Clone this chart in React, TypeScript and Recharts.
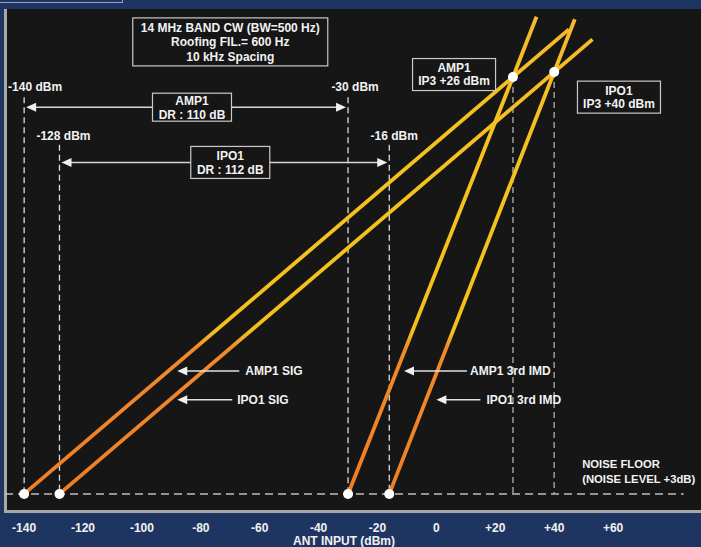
import React from 'react';
import { ComposedChart, Line, XAxis, YAxis, ReferenceLine, ReferenceDot } from 'recharts';

const FONT = '"Liberation Sans", Arial, Helvetica, sans-serif';
const TXT = '#f2f2f2';

// ---------- data ----------
const xTicks = [-140, -120, -100, -80, -60, -40, -20, 0, 20, 40, 60];
const NOISE_FLOOR = -140;

const amp1Sig = [{ x: -140, y: -140 }, { x: 45, y: 45 }];
const ipo1Sig = [{ x: -128, y: -140 }, { x: 53, y: 41 }];
const amp1Imd = [{ x: -30, y: -140 }, { x: 26, y: 26 }, { x: 34, y: 50 }];
const ipo1Imd = [{ x: -16, y: -140 }, { x: 40, y: 28 }, { x: 47, y: 49 }];

const mdsInputs = [-140, -128, -30, -16];
const mdsLabels = ['-140 dBm', '-128 dBm', '-30 dBm', '-16 dBm'];

const ip3Points = [{ x: 26, y: 26 }, { x: 40, y: 28 }];
const ip3Names = ['AMP1', 'IPO1'];
const ip3Texts = ['IP3 +26 dBm', 'IP3 +40 dBm'];

const drFrom = [-140, -128];
const drTo = [-30, -16];
const drNames = ['AMP1', 'IPO1'];
const drTexts = ['DR : 110 dB', 'DR : 112 dB'];

const titleLines = ['14 MHz BAND CW (BW=500 Hz)', 'Roofing FIL.= 600 Hz', '10 kHz Spacing'];
const seriesNames = ['AMP1 SIG', 'IPO1 SIG', 'AMP1 3rd IMD', 'IPO1 3rd IMD'];
const noiseLines = ['NOISE FLOOR', '(NOISE LEVEL +3dB)'];

// ---------- helpers ----------
const TextBox = ({ cx, cy, w, h, lines, gap }: any) => {
  const n = lines.length;
  return (
    <g>
      <rect x={cx - w / 2} y={cy - h / 2} width={w} height={h} fill="#161616" stroke="#c9c9c9" strokeWidth={1.2} />
      {lines.map((t: string, i: number) => (
        <text key={i} x={cx} y={cy + (i - (n - 1) / 2) * gap} dy="0.36em" textAnchor="middle"
          fill={TXT} fontSize={12} fontWeight="bold" fontFamily={FONT}>{t}</text>
      ))}
    </g>
  );
};

const boxShape = (w: number, h: number, lines: string[], gap: number) => (p: any) =>
  <TextBox cx={p.cx} cy={p.cy} w={w} h={h} lines={lines} gap={gap} />;

const labelShape = (text: string, dx: number) => (p: any) => (
  <text x={p.cx + dx} y={p.cy} dy="0.36em" textAnchor="middle" fill={TXT} fontSize={12}
    fontWeight="bold" fontFamily={FONT}>{text}</text>
);

const pointerShape = (text: string, len: number, gapText: number) => (p: any) => (
  <g>
    <line x1={p.cx + 8} y1={p.cy} x2={p.cx + len} y2={p.cy} stroke="#e0e0e0" strokeWidth={1.5} />
    <polygon points={`${p.cx},${p.cy} ${p.cx + 10},${p.cy - 4.5} ${p.cx + 10},${p.cy + 4.5}`} fill="#f0f0f0" />
    <text x={p.cx + gapText} y={p.cy} dy="0.36em" textAnchor="start" fill={TXT} fontSize={12}
      fontWeight="bold" fontFamily={FONT}>{text}</text>
  </g>
);

const multiLineShape = (lines: string[], gap: number) => (p: any) => (
  <g>
    {lines.map((t, i) => (
      <text key={i} x={p.cx} y={p.cy + i * gap} dy="0.36em" textAnchor="start" fill={TXT} fontSize={11.3}
        fontWeight="bold" fontFamily={FONT}>{t}</text>
    ))}
  </g>
);

const dblArrow = (p: any) => {
  const { x1, y1, x2 } = p;
  const a = x1 + 2, b = x2 - 2;
  return (
    <g>
      <line x1={a + 8} y1={y1} x2={b - 8} y2={y1} stroke="#d6d6d6" strokeWidth={1.5} />
      <polygon points={`${a},${y1} ${a + 10},${y1 - 4.5} ${a + 10},${y1 + 4.5}`} fill="#f0f0f0" />
      <polygon points={`${b},${y1} ${b - 10},${y1 - 4.5} ${b - 10},${y1 + 4.5}`} fill="#f0f0f0" />
    </g>
  );
};

const Tick = (props: any) => {
  const { x, y, payload } = props;
  const v = payload.value;
  return (
    <text x={x} y={y + 22} textAnchor="middle" fill={TXT} fontSize={12} fontWeight="bold" fontFamily={FONT}>
      {v > 0 ? `+${v}` : `${v}`}
    </text>
  );
};

const AxisTitle = (props: any) => {
  const vb = props.viewBox || { x: 5, y: 510, width: 692 };
  return (
    <text x={vb.x + vb.width / 2 - 7} y={vb.y + 34.5} textAnchor="middle" fill={TXT} fontSize={12}
      fontWeight="bold" fontFamily={FONT}>ANT INPUT (dBm)</text>
  );
};

const lineProps = {
  type: 'linear' as const,
  dataKey: 'y',
  stroke: 'url(#sigGrad)',
  strokeWidth: 3.8,
  dot: false,
  activeDot: false,
  isAnimationActive: false,
};

export default function App() {
  const dxLabel = [11, 4, 7, 5];
  const labelY = [22, 2.5, 22, 2.5];
  const dashTop = [18, -1, 18, -1];
  const drY = [14, -8];
  const drBoxX = [-83, -70];
  const drBoxH = [28, 32];
  const ip3BoxPos = [{ x: 6, y: 27 }, { x: 62, y: 18 }];
  const ptrPos = [{ x: -88, y: -91 }, { x: -88, y: -102.5 }, { x: -11, y: -91 }, { x: 0, y: -102.5 }];
  const ptrLen = [62, 55, 63, 44];
  const ptrTxt = [68, 60, 66, 50];

  return (
    <div style={{ position: 'absolute', left: 0, top: 0, width: 701, height: 547, background: '#1e3561', overflow: 'hidden' }}>
      <div style={{ position: 'absolute', left: -2, top: -12, width: 125, height: 15, border: '1px solid #8fa2c6', boxSizing: 'border-box' }} />
      <div style={{ position: 'absolute', left: 4, top: 9, width: 697, height: 504, background: '#a8a8a8' }} />
      <div style={{ position: 'absolute', left: 7, top: 9, width: 694, height: 501, background: '#161616' }} />
      <div style={{ position: 'absolute', left: 0, top: 0 }}>
        <ComposedChart width={701} height={547} margin={{ top: 9, right: 4, bottom: 0, left: 5 }}>
          <defs>
            <linearGradient id="sigGrad" gradientUnits="userSpaceOnUse" x1="0" y1="9" x2="0" y2="510">
              <stop offset="0" stopColor="#f6b92a" />
              <stop offset="0.3" stopColor="#f5c21e" />
              <stop offset="0.645" stopColor="#f4c01c" />
              <stop offset="0.675" stopColor="#f28a2a" />
              <stop offset="1" stopColor="#ef7d24" />
            </linearGradient>
          </defs>
          <XAxis type="number" dataKey="x" domain={[-146.5, 88.5]} allowDataOverflow ticks={xTicks}
            tick={<Tick />} tickLine={false} axisLine={false} tickSize={0} tickMargin={0} height={37}
            interval={0} label={<AxisTitle />} />
          <YAxis type="number" dataKey="y" domain={[-146.4, 53.1]} allowDataOverflow hide />

          {/* noise floor */}
          <ReferenceLine segment={[{ x: -146.5, y: NOISE_FLOOR }, { x: 84, y: NOISE_FLOOR }]}
            stroke="#bdbdbd" strokeWidth={1.6} strokeDasharray="8 5" />

          {/* MDS verticals */}
          {mdsInputs.map((v, i) => (
            <ReferenceLine key={`mv${i}`} segment={[{ x: v, y: dashTop[i] }, { x: v, y: NOISE_FLOOR }]}
              stroke="#dcdcdc" strokeWidth={1.3} strokeDasharray="6 4" />
          ))}
          {/* IP3 verticals */}
          {ip3Points.map((p, i) => (
            <ReferenceLine key={`iv${i}`} segment={[{ x: p.x, y: p.y }, { x: p.x, y: NOISE_FLOOR }]}
              stroke="#9c9c9c" strokeWidth={1.5} strokeDasharray="6 4" />
          ))}

          {/* DR arrows */}
          {drFrom.map((f, i) => (
            <ReferenceLine key={`dr${i}`} segment={[{ x: f, y: drY[i] }, { x: drTo[i], y: drY[i] }]} shape={dblArrow} />
          ))}

          <Line data={amp1Sig} name="AMP1 SIG" {...lineProps} />
          <Line data={ipo1Sig} name="IPO1 SIG" {...lineProps} />
          <Line data={amp1Imd} name="AMP1 3rd IMD" {...lineProps} />
          <Line data={ipo1Imd} name="IPO1 3rd IMD" {...lineProps} />

          {/* DR boxes */}
          {drNames.map((n, i) => (
            <ReferenceDot key={`db${i}`} x={drBoxX[i]} y={drY[i]} r={1}
              shape={boxShape(79, drBoxH[i], [n, drTexts[i]], 14)} />
          ))}

          {/* title box */}
          <ReferenceDot x={-70} y={40} r={1} shape={boxShape(195, 48, titleLines, 14.5)} />

          {/* IP3 boxes */}
          {ip3Names.map((n, i) => (
            <ReferenceDot key={`ib${i}`} x={ip3BoxPos[i].x} y={ip3BoxPos[i].y} r={1}
              shape={boxShape(83, 32, [n, ip3Texts[i]], 13)} />
          ))}

          {/* MDS labels */}
          {mdsInputs.map((v, i) => (
            <ReferenceDot key={`ml${i}`} x={v} y={labelY[i]} r={1} shape={labelShape(mdsLabels[i], dxLabel[i])} />
          ))}

          {/* series pointers */}
          {seriesNames.map((s, i) => (
            <ReferenceDot key={`sp${i}`} x={ptrPos[i].x} y={ptrPos[i].y} r={1}
              shape={pointerShape(s, ptrLen[i], ptrTxt[i])} />
          ))}

          {/* noise floor text */}
          <ReferenceDot x={49.5} y={-128} r={1} shape={multiLineShape(noiseLines, 15)} />

          {/* dots */}
          {mdsInputs.map((v, i) => (
            <ReferenceDot key={`md${i}`} x={v} y={NOISE_FLOOR} r={5} fill="#ffffff" stroke="none" />
          ))}
          {ip3Points.map((p, i) => (
            <ReferenceDot key={`id${i}`} x={p.x} y={p.y} r={5} fill="#ffffff" stroke="none" />
          ))}
        </ComposedChart>
      </div>
    </div>
  );
}
